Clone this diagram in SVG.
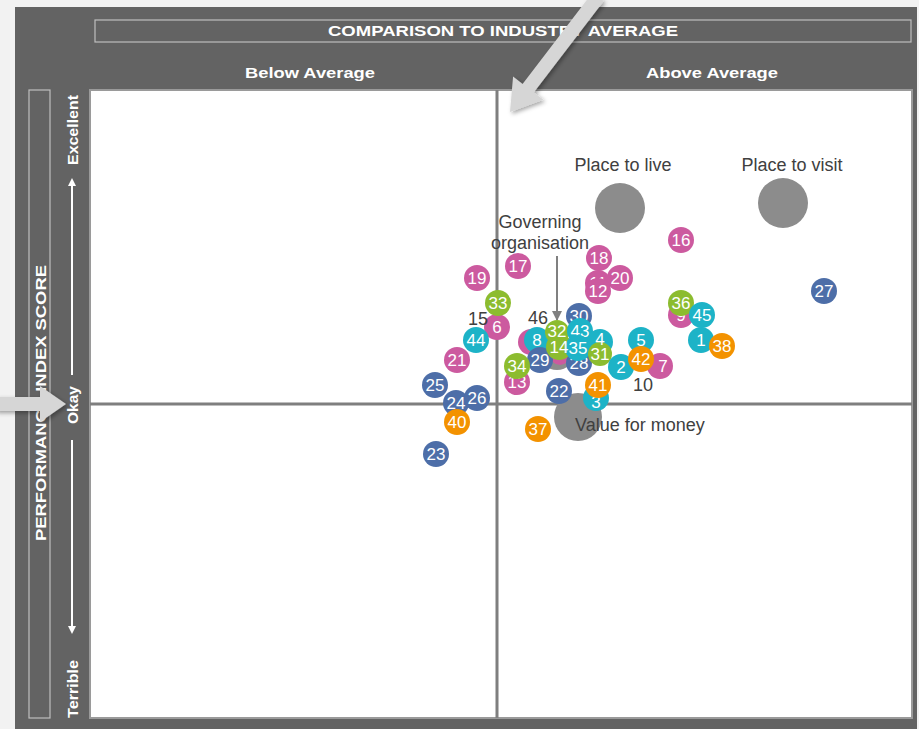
<svg xmlns="http://www.w3.org/2000/svg" width="919" height="729" viewBox="0 0 919 729">
<style>
.hdr{font-family:"Liberation Sans",Arial,sans-serif;font-weight:bold;fill:#fff;}
.lbl{font-family:"Liberation Sans",Arial,sans-serif;font-size:18px;fill:#404040;}
.num{font-family:"Liberation Sans",Arial,sans-serif;font-size:17px;fill:#fff;text-anchor:middle;dominant-baseline:central;}
.pk{fill:#cc5a9f;} .bl{fill:#4d6ea8;} .cy{fill:#1db3c7;} .gr{fill:#8cbc2f;} .or{fill:#f39200;}
.big{fill:#8c8c8c;}
</style>
<defs>
<filter id="sh" x="-20%" y="-20%" width="140%" height="140%">
<feDropShadow dx="2" dy="2" stdDeviation="2" flood-color="#000" flood-opacity="0.35"/>
</filter>
<marker id="wa" markerWidth="8" markerHeight="8" refX="4" refY="4" orient="auto" markerUnits="userSpaceOnUse">
<path d="M0,0 L8,4 L0,8 z" fill="#fff"/>
</marker>
<marker id="ga" markerWidth="10" markerHeight="10" refX="9" refY="5" orient="auto" markerUnits="userSpaceOnUse">
<path d="M0,0 L10,5 L0,10 z" fill="#808080"/>
</marker>
</defs>
<rect x="0" y="0" width="919" height="729" fill="#f2f2f2"/>
<rect x="15" y="7" width="902" height="722" fill="#636363"/>
<g id="title">
<rect x="95" y="20" width="816" height="22" fill="none" stroke="#bfbfbf" stroke-width="1.2"/>
<text class="hdr" x="503" y="36" font-size="15" text-anchor="middle" textLength="350" lengthAdjust="spacingAndGlyphs">COMPARISON TO INDUSTRY AVERAGE</text>
<text class="hdr" x="310" y="78" font-size="15.5" text-anchor="middle" textLength="130" lengthAdjust="spacingAndGlyphs">Below Average</text>
<text class="hdr" x="712" y="78" font-size="15.5" text-anchor="middle" textLength="132" lengthAdjust="spacingAndGlyphs">Above Average</text>
</g>
<g id="yaxis">
<rect x="29" y="90" width="21" height="628" fill="none" stroke="#bfbfbf" stroke-width="1.2"/>
<text class="hdr" transform="translate(46,403) rotate(-90)" font-size="15.5" text-anchor="middle" textLength="276" lengthAdjust="spacingAndGlyphs">PERFORMANCE INDEX SCORE</text>
<text class="hdr" transform="translate(78,130) rotate(-90)" font-size="15.5" text-anchor="middle" textLength="70" lengthAdjust="spacingAndGlyphs">Excellent</text>
<text class="hdr" transform="translate(78,405) rotate(-90)" font-size="15.5" text-anchor="middle">Okay</text>
<text class="hdr" transform="translate(78,689) rotate(-90)" font-size="15.5" text-anchor="middle" textLength="58" lengthAdjust="spacingAndGlyphs">Terrible</text>
<line x1="72" y1="375" x2="72" y2="182" stroke="#fff" stroke-width="2" marker-end="url(#wa)"/>
<line x1="72" y1="440" x2="72" y2="630" stroke="#fff" stroke-width="2" marker-end="url(#wa)"/>
</g>
<g id="plot">
<rect x="90" y="90" width="822" height="628" fill="#fff" stroke="#9a9a9a" stroke-width="2"/>
<line x1="497" y1="90" x2="497" y2="718" stroke="#7f7f7f" stroke-width="3"/>
<line x1="90" y1="404" x2="912" y2="404" stroke="#7f7f7f" stroke-width="3"/>
</g>
<g id="connectors">
<line x1="557" y1="256" x2="557" y2="320" stroke="#808080" stroke-width="2" marker-end="url(#ga)"/>
</g>
<g id="categories">
<g id="place-live"><circle class="big" cx="620" cy="208" r="25"/><text class="lbl" x="623" y="171" text-anchor="middle">Place to live</text></g>
<g id="place-visit"><circle class="big" cx="783" cy="203" r="25"/><text class="lbl" x="792" y="171" text-anchor="middle">Place to visit</text></g>
<g id="governing"><circle class="big" cx="557" cy="352" r="18"/><text class="lbl" x="540" y="228" text-anchor="middle">Governing</text><text class="lbl" x="540" y="249" text-anchor="middle">organisation</text></g>
<g id="value-money"><circle class="big" cx="578" cy="417" r="24"/></g>
</g>
<g id="bubbles">
<g id="b25"><circle class="bl" cx="435" cy="385" r="13"/><text class="num" x="435" y="385">25</text></g>
<g id="b24"><circle class="bl" cx="456" cy="403" r="13"/><text class="num" x="456" y="403">24</text></g>
<g id="b26"><circle class="bl" cx="477" cy="398" r="13"/><text class="num" x="477" y="398">26</text></g>
<g id="b40"><circle class="or" cx="457" cy="422" r="13"/><text class="num" x="457" y="422">40</text></g>
<g id="b23"><circle class="bl" cx="436" cy="454" r="13"/><text class="num" x="436" y="454">23</text></g>
<g id="b21"><circle class="pk" cx="457" cy="360" r="13"/><text class="num" x="457" y="360">21</text></g>
<g id="b19"><circle class="pk" cx="477" cy="278" r="13"/><text class="num" x="477" y="278">19</text></g>
<g id="b17"><circle class="pk" cx="518" cy="266" r="13"/><text class="num" x="518" y="266">17</text></g>
<g id="b6"><circle class="pk" cx="497" cy="327" r="13"/><text class="num" x="497" y="327">6</text></g>
<g id="b33"><circle class="gr" cx="498" cy="303" r="13"/><text class="num" x="498" y="303">33</text></g>
<g id="b44"><circle class="cy" cx="476" cy="340" r="13"/><text class="num" x="476" y="340">44</text></g>
<g id="b13"><circle class="pk" cx="517" cy="382" r="13"/><text class="num" x="517" y="382">13</text></g>
<g id="bp1"><circle class="pk" cx="531" cy="342" r="13"/></g>
<g id="bp2"><circle class="pk" cx="560" cy="355" r="10"/></g>
<g id="b30"><circle class="bl" cx="579" cy="316" r="13"/><text class="num" x="579" y="316">30</text></g>
<g id="b8"><circle class="cy" cx="537" cy="340" r="13"/><text class="num" x="537" y="340">8</text></g>
<g id="b29"><circle class="bl" cx="540" cy="360" r="13"/><text class="num" x="540" y="360">29</text></g>
<g id="b34"><circle class="gr" cx="517" cy="366" r="13"/><text class="num" x="517" y="366">34</text></g>
<g id="b28"><circle class="bl" cx="579" cy="363" r="13"/><text class="num" x="579" y="363">28</text></g>
<g id="b32"><circle class="gr" cx="557" cy="332" r="12"/></g>
<g id="b14"><circle class="gr" cx="559" cy="347" r="13"/></g>
<g id="b43"><circle class="cy" cx="580" cy="331" r="13"/><text class="num" x="580" y="331">43</text></g>
<g id="b35"><circle class="cy" cx="578" cy="348" r="13"/></g>
<g id="b4"><circle class="cy" cx="600" cy="342" r="13"/></g>
<g id="b31"><circle class="gr" cx="600" cy="354" r="12"/></g>
<g id="cluster-labels">
<text class="num" x="557" y="331">32</text>
<text class="num" x="559" y="347">14</text>
<text class="num" x="578" y="348">35</text>
<text class="num" x="600" y="339">4</text>
<text class="num" x="600" y="354">31</text>
</g>
<g id="b22"><circle class="bl" cx="559" cy="391" r="13"/><text class="num" x="559" y="391">22</text></g>
<g id="b3"><circle class="cy" cx="596" cy="398" r="13"/><text class="num" x="596" y="402">3</text></g>
<g id="b41"><circle class="or" cx="598" cy="385" r="13"/><text class="num" x="598" y="385">41</text></g>
<g id="b37"><circle class="or" cx="538" cy="429" r="13"/><text class="num" x="538" y="429">37</text></g>
<g id="b18"><circle class="pk" cx="599" cy="258" r="13"/><text class="num" x="599" y="258">18</text></g>
<g id="b20"><circle class="pk" cx="620" cy="278" r="13"/><text class="num" x="620" y="278">20</text></g>
<g id="b11"><circle class="pk" cx="598" cy="283" r="13"/><text class="num" x="598" y="283">11</text></g>
<g id="b12"><circle class="pk" cx="598" cy="291" r="13"/><text class="num" x="598" y="291">12</text></g>
<g id="b16"><circle class="pk" cx="681" cy="240" r="13"/><text class="num" x="681" y="240">16</text></g>
<g id="b5"><circle class="cy" cx="641" cy="340" r="13"/><text class="num" x="641" y="340">5</text></g>
<g id="b7"><circle class="pk" cx="660" cy="366" r="13"/><text class="num" x="663" y="366">7</text></g>
<g id="b2"><circle class="cy" cx="621" cy="367" r="13"/><text class="num" x="621" y="367">2</text></g>
<g id="b42"><circle class="or" cx="641" cy="359" r="13"/><text class="num" x="641" y="359">42</text></g>
<g id="b9"><circle class="pk" cx="681" cy="315" r="13"/><text class="num" x="681" y="315">9</text></g>
<g id="b36"><circle class="gr" cx="681" cy="303" r="13"/><text class="num" x="681" y="303">36</text></g>
<g id="b1"><circle class="cy" cx="701" cy="340" r="13"/><text class="num" x="701" y="340">1</text></g>
<g id="b45"><circle class="cy" cx="702" cy="315" r="13"/><text class="num" x="702" y="315">45</text></g>
<g id="b38"><circle class="or" cx="722" cy="346" r="13"/><text class="num" x="722" y="346">38</text></g>
<g id="b27"><circle class="bl" cx="824" cy="291" r="13"/><text class="num" x="824" y="291">27</text></g>
</g>
<g id="free-labels">
<text class="lbl" x="575" y="431">Value for money</text>
<text class="lbl" x="478" y="325" text-anchor="middle">15</text>
<text class="lbl" x="538" y="324" text-anchor="middle">46</text>
<text class="lbl" x="643" y="391" text-anchor="middle">10</text>
</g>
<g id="callouts" filter="url(#sh)">
<polygon points="603.6,1.3 533.8,92.5 543.3,99.8 510,112 513.1,76.6 522.6,83.9 592.4,-7.3" fill="#d6d6d6"/>
<polygon points="-5,397 40,397 40,386 66,404 40,422 40,411 -5,411" fill="#d6d6d6"/>
</g>
</svg>
